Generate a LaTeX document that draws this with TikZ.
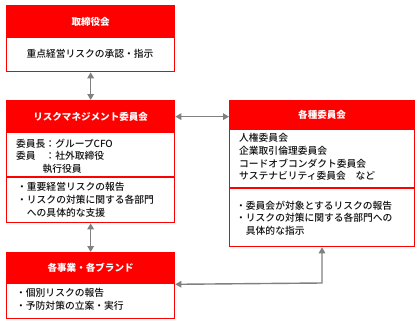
\documentclass[tikz,border=0pt]{standalone}
\usepackage{fontspec}
\newfontfamily\jp{Noto Sans CJK JP}
\newfontfamily\jpm{Noto Sans CJK JP Medium}
\usetikzlibrary{arrows.meta}
\definecolor{rcol}{HTML}{FF0000}
\definecolor{acol}{HTML}{808080}
\definecolor{tcol}{HTML}{111111}
\tikzset{
  boxframe/.style={draw=rcol, fill=white, line width=1.3bp, anchor=north west, inner sep=0pt, minimum width=#1},
  hdr/.style={draw=rcol, fill=rcol, line width=1.3bp, anchor=north west, inner sep=0pt, text=white,
    font=\jp\bfseries\fontsize{9.6}{11}\selectfont, minimum width=#1},
  txt/.style={anchor=north west, inner sep=0pt, align=left, text=tcol, font=\jpm\fontsize{9.8}{12.6}\selectfont},
  txtc/.style={anchor=center, inner sep=0pt, align=center, text=tcol, font=\jpm\fontsize{9.8}{12.6}\selectfont},
  divline/.style={draw=rcol, line width=1.3bp},
  conn/.style={draw=acol, line width=1.4bp, {Triangle[length=6bp,width=6.5bp]}-{Triangle[length=6bp,width=6.5bp]}}
}
\begin{document}
\begin{tikzpicture}[x=1bp,y=-1bp]
\useasboundingbox[fill=white] (0,0) rectangle (420,324);
% Box 1
\node[boxframe=168bp, minimum height=66bp] (b1) at (6,5) {};
\node[hdr=168bp, minimum height=32bp] (b1h) at (b1.north west) {取締役会};
\node[txtc] (b1t) at (90,54) {重点経営リスクの承認・指示};
% Box 2
\node[boxframe=168bp, minimum height=122bp] (b2) at (6,100) {};
\node[hdr=168bp, minimum height=32bp] (b2h) at (b2.north west) {リスクマネジメント委員会};
\draw[divline] (6,177) -- (174,177);
\node[txt] (b2a) at (16,138.5) {\makebox[3em][l]{委員長}\makebox[1em][c]{：}グループCFO\\\makebox[3em][l]{委員}\makebox[1em][c]{：}社外取締役\\\hspace*{2.7em}執行役員};
\node[txt] (b2b) at (17,182.5) {・重要経営リスクの報告\\・リスクの対策に関する各部門\\　への具体的な支援};
% Box 3
\node[boxframe=185bp, minimum height=146bp] (b3) at (229,100) {};
\node[hdr=185bp, minimum height=29bp] (b3h) at (b3.north west) {各種委員会};
\draw[divline] (229,188) -- (414,188);
\node[txt] (b3a) at (239,133.5) {人権委員会\\企業取引倫理委員会\\コードオブコンダクト委員会\\サステナビリティ委員会　など};
\node[txt] (b3b) at (236,200.5) {・委員会が対象とするリスクの報告\\・リスクの対策に関する各部門への\\　具体的な指示};
% Box 4
\node[boxframe=168bp, minimum height=66bp] (b4) at (6,252) {};
\node[hdr=168bp, minimum height=31bp] (b4h) at (b4.north west) {各事業・各ブランド};
\node[txt] (b4t) at (16,288.5) {・個別リスクの報告\\・予防対策の立案・実行};
% Connectors
\coordinate (c43) at (322,283);
\draw[conn] (b1.south) -- (b2.north);
\draw[conn] (b2.south) -- (b4.north);
\draw[conn] (b2h.east) -- (b2h.east -| b3.west);
\draw[conn] (b4h.south east) -- (c43) -- (c43 |- b3.south);
\end{tikzpicture}
\end{document}
